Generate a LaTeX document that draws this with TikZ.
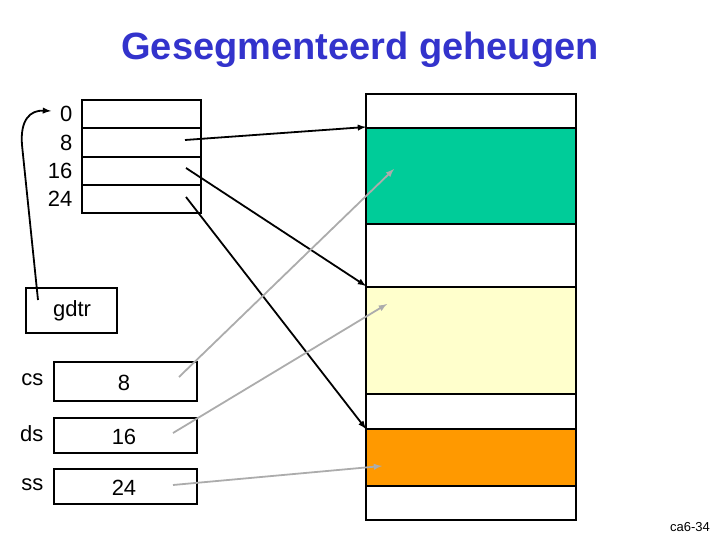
\documentclass[tikz,border=0pt]{standalone}
\usepackage{fontspec}
\setmainfont{Liberation Sans}
\begin{document}
\begin{tikzpicture}[x=1pt,y=-1pt,
  bx/.style={draw,line width=1.5pt,inner sep=0},
  blk/.style={line width=1.8pt,-latex},
  gry/.style={line width=1.8pt,-latex,draw=gray!65},
  lab/.style={font=\fontsize{22}{22}\selectfont}]
\useasboundingbox (0,0) rectangle (720,540);
\node[font=\bfseries\fontsize{38}{38}\selectfont,text={rgb,255:red,51;green,51;blue,204}] (title) at (360,50) {Gesegmenteerd geheugen};
% table
\foreach \i/\a/\b/\t in {0/100/128/0,1/128/157/8,2/157/185/16,3/185/213/24}{
  \draw[line width=1.5pt] (82,\a) rectangle (201,\b);
  \node[lab,anchor=east] (l\i) at (76,{(\a+\b)/2}) {\t};
}
\coordinate (t1) at (185,140);
\coordinate (t2) at (186,168);
\coordinate (t3) at (186,197);
% gdtr
\node[bx,minimum width=91,minimum height=45,anchor=north west] (gdtr) at (25,287) {};
\node[lab] (gt) at (72,311) {gdtr};
\coordinate (g0) at (38,300);
\coordinate (g1) at (51,111);
\draw[blk] (g0) -- (22,145) .. controls (20,120) and (30,110) .. (g1);
% registers
\foreach \n/\a/\b/\v in {cs/361/400/8,ds/417/452/16,ss/468/503/24}{
  \node[bx,minimum width=143,minimum height={\b-\a},anchor=north west] (\n) at (53,\a) {};
  \node[lab] (\n v) at (124,{(\a+\b)/2+2}) {\v};
  \node[lab,anchor=east] (\n l) at (47,{(\a+\b)/2-1}) {\n};
}
% memory
\fill[fill={rgb,255:red,0;green,204;blue,153}] (366,128) rectangle (576,224);
\fill[fill={rgb,255:red,255;green,255;blue,204}] (366,287) rectangle (576,394);
\fill[fill={rgb,255:red,255;green,153;blue,0}] (366,429) rectangle (576,486);
\draw[line width=1.5pt] (366,94) rectangle (576,520);
\foreach \y in {128,224,287,394,429,486} \draw[line width=1.5pt] (366,\y) -- (576,\y);
\coordinate (m1) at (366,127);
\coordinate (m2) at (366,286);
\coordinate (m3) at (366,429);
\draw[blk] (t1) -- (m1);
\draw[blk] (t2) -- (m2);
\draw[blk] (t3) -- (m3);
\coordinate (c0) at (179,377); \coordinate (c1) at (394,169);
\coordinate (d0) at (173,433); \coordinate (d1) at (387,304);
\coordinate (s0) at (173,485); \coordinate (s1) at (382,466);
\draw[gry] (c0) -- (c1);
\draw[gry] (d0) -- (d1);
\draw[gry] (s0) -- (s1);
\node[font=\fontsize{13}{13}\selectfont] (foot) at (690,527) {ca6-34};
\end{tikzpicture}
\end{document}
